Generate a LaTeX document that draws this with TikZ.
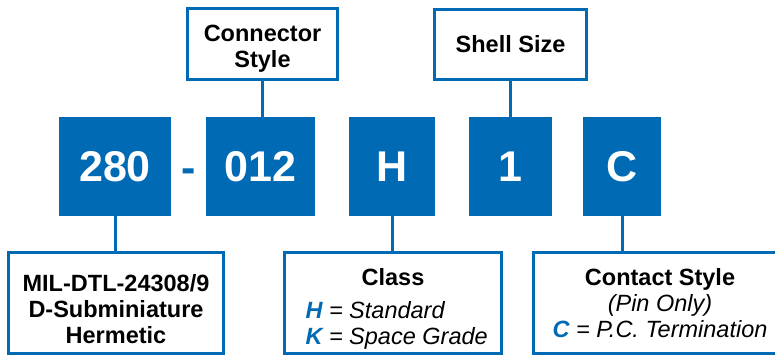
\documentclass[tikz,border=0pt]{standalone}
\usepackage{fontspec}
\setmainfont{Liberation Sans}
\usetikzlibrary{positioning}
\definecolor{pnblue}{RGB}{0,106,180}
\newcommand\bluecode[1]{%
\textcolor{pnblue}{\bfseries\itshape #1}%
}
\newcommand\toppad[1]{\rule{0pt}{#1}}

\begin{document}
\begin{tikzpicture}[x=1pt,y=-1pt,
	code/.style={fill=pnblue, text=white, inner sep=0pt, minimum height=99pt,
		font=\bfseries\fontsize{43}{43}\selectfont},
	tag/.style={draw=pnblue, line width=3pt, fill=white, inner sep=0pt, align=center,
		font=\bfseries\fontsize{23.5}{26}\selectfont},
	link/.style={draw=pnblue, line width=3pt}]
	%% frame of the picture
	\useasboundingbox (0,0) rectangle (775,358);
	\clip (0,0) rectangle (775,358);

	\def\rowY{166.5} % middle of the part number row
	\def\lowY{303} % middle of the lower boxes

	% part number
	\node[code, minimum width=112pt] (series) at (115,\rowY) {280};
	\node[code, minimum width=109pt] (style) at (260.5,\rowY) {012};
	\node[code, minimum width=86pt] (class) at (392,\rowY) {H};
	\node[code, minimum width=83pt] (shell) at (510.5,\rowY) {1};
	\node[code, minimum width=78pt] (contact) at (622,\rowY) {C};
	\node[anchor=base, inner sep=0pt, text=pnblue,
		font=\bfseries\fontsize{43}{43}\selectfont] (dash) at (189,182) {-};

	% upper boxes
	\node[tag, minimum width=150pt, minimum height=71pt] (styletag) at (262.5,44)
		{\toppad{26pt}Connector\\Style};
	\node[tag, minimum width=152pt, minimum height=70pt] (shelltag) at (510.5,44.5) {Shell Size};

	% lower boxes
	\node[tag, minimum width=215pt, minimum height=101pt] (seriestag) at (116,\lowY)
		{\toppad{29pt}MIL-DTL-24308/9\\D-Subminiature\\Hermetic};
	\node[tag, minimum width=217pt, minimum height=101pt] (classtag) at (393,\lowY)
		{\toppad{29pt}Class\\[7pt]
		\makebox[185pt][l]{\hspace{5pt}\bluecode{H}\mdseries\itshape\ = Standard}\\
		\makebox[185pt][l]{\hspace{5pt}\bluecode{K}\mdseries\itshape\ = Space Grade}};
	\node[tag, minimum width=253pt, minimum height=101pt] (contacttag) at (660,\lowY)
		{Contact Style\\
		{\mdseries\itshape (Pin Only)}\\
		\bluecode{C}{\mdseries\itshape\ = P.C. Termination}};

	% links
	\draw[link] (styletag.south) -- (styletag.south |- style.north);
	\draw[link] (shelltag.south) -- (shelltag.south |- shell.north);
	\draw[link] (series.south) -- (series.south |- seriestag.north);
	\draw[link] (class.south) -- (class.south |- classtag.north);
	\draw[link] (contact.south) -- (contact.south |- contacttag.north);

\end{tikzpicture}
\end{document}
